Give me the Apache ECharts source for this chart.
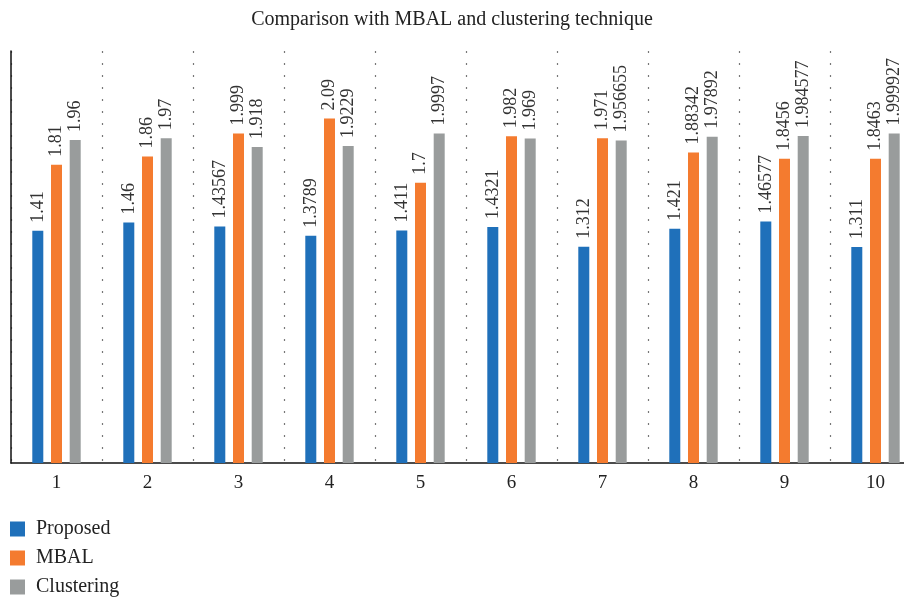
<!DOCTYPE html>
<html><head><meta charset="utf-8">
<script src="https://cdn.jsdelivr.net/npm/echarts@6/dist/echarts.min.js"></script>
<style>html,body{margin:0;padding:0;background:#fff}#c{width:904px;height:597px}</style>
</head><body><div id="c"></div>
<script>
var categories = ['1','2','3','4','5','6','7','8','9','10'];
var proposed = [1.41, 1.46, 1.43567, 1.3789, 1.411, 1.4321, 1.312, 1.421, 1.46577, 1.311];
var mbal = [1.81, 1.86, 1.999, 2.09, 1.7, 1.982, 1.971, 1.88342, 1.8456, 1.8463];
var clustering = [1.96, 1.97, 1.918, 1.9229, 1.9997, 1.969, 1.956655, 1.97892, 1.984577, 1.999927];
var seriesNames = ['Proposed', 'MBAL', 'Clustering'];
var colors = ['#1f70ba', '#f47b2f', '#999c9c'];
var FONT = '"Liberation Serif", "DejaVu Serif", serif';

var chart = echarts.init(document.getElementById('c'));
function mk(name, data, color) {
  return {
    name: name, type: 'bar', data: data, barWidth: 11, barGap: '70%',
    itemStyle: { color: color },
    label: {
      show: true, position: 'top', rotate: 90, align: 'left', verticalAlign: 'middle',
      distance: 8, color: '#333', fontFamily: FONT, fontSize: 18,
      formatter: function (p) { return String(p.value); }
    }
  };
}
function lg(i) {
  return {
    orient: 'vertical', left: 10, top: 519 + i * 29, padding: 0, icon: 'rect', itemWidth: 15, itemHeight: 15,
    textStyle: { fontFamily: FONT, fontSize: 20, color: '#222', padding: [0, 0, 0, 6] },
    data: [seriesNames[i]]
  };
}
chart.setOption({
  animation: false,
  textStyle: { fontFamily: FONT },
  title: {
    text: 'Comparison with MBAL and clustering technique', left: 'center', top: 5,
    textStyle: { fontFamily: FONT, fontSize: 20, fontWeight: 'normal', color: '#222' }
  },
  color: colors,
  legend: [lg(0), lg(1), lg(2)],
  grid: { left: 11, top: 51, width: 910, height: 412, containLabel: false, outerBoundsMode: 'none' },
  xAxis: {
    type: 'category', data: categories,
    axisLine: { lineStyle: { color: '#111', width: 1.5 } },
    axisTick: { show: false },
    axisLabel: { fontFamily: FONT, fontSize: 19, color: '#222', margin: 11 },
    splitLine: { show: true, lineStyle: { type: [2, 10], color: '#777', width: 1.2 } }
  },
  yAxis: {
    type: 'value', min: 0, max: 2.5,
    axisLine: { show: true, lineStyle: { color: '#111', width: 1.5 } },
    axisTick: { show: false }, axisLabel: { show: false }, splitLine: { show: false }
  },
  series: [mk(seriesNames[0], proposed, colors[0]), mk(seriesNames[1], mbal, colors[1]), mk(seriesNames[2], clustering, colors[2])]
});
</script></body></html>
